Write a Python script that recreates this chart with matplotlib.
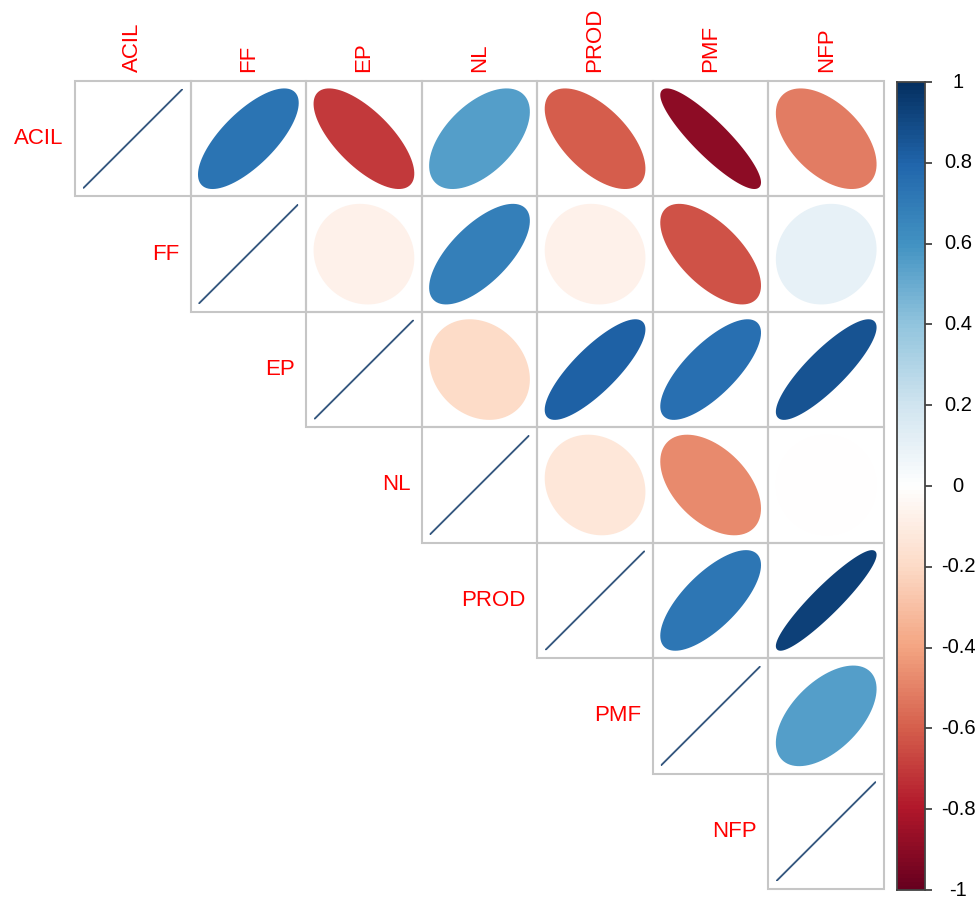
import numpy as np
import matplotlib
matplotlib.use("Agg")
import matplotlib.pyplot as plt
from matplotlib.colors import LinearSegmentedColormap
from matplotlib.patches import Polygon, Rectangle

plt.rcParams["font.family"] = ["Liberation Sans", "DejaVu Sans"]

# Variables and upper-triangle correlations (row i, columns i..6)
variables = ["ACIL", "FF", "EP", "NL", "PROD", "PMF", "NFP"]
r_acil = [1.00, 0.73, -0.71, 0.55, -0.61, -0.89, -0.52]
r_ff = [1.00, -0.08, 0.68, -0.08, -0.64, 0.10]
r_ep = [1.00, -0.20, 0.82, 0.75, 0.86]
r_nl = [1.00, -0.14, -0.48, -0.01]
r_prod = [1.00, 0.72, 0.93]
r_pmf = [1.00, 0.55]
r_nfp = [1.00]
upper_rows = [r_acil, r_ff, r_ep, r_nl, r_prod, r_pmf, r_nfp]

cbar_ticks = [1, 0.8, 0.6, 0.4, 0.2, 0, -0.2, -0.4, -0.6, -0.8, -1]
cbar_labels = ["1", "0.8", "0.6", "0.4", "0.2", "0", "-0.2", "-0.4", "-0.6", "-0.8", "-1"]

rdbu = ["#67001F", "#B2182B", "#D6604D", "#F4A582", "#FDDBC7", "#FFFFFF",
        "#D1E5F0", "#92C5DE", "#4393C3", "#2166AC", "#053061"]
cmap = LinearSegmentedColormap.from_list("rdbu200", rdbu, N=200)

W, H = 979, 900
fig = plt.figure(figsize=(W / 100, H / 100), dpi=100)
fig.patch.set_facecolor("white")

n = len(variables)
ax = fig.add_axes([75 / W, 11 / H, 809 / W, 808 / H])
ax.set_xlim(0, n)
ax.set_ylim(n, 0)
ax.axis("off")

t = np.linspace(0, 2 * np.pi, 99)
label_color = "#FF0000"

for i, row in enumerate(upper_rows):
    for k, r in enumerate(row):
        j = i + k
        ax.add_patch(Rectangle((j, i), 1, 1, fill=False, ec="#c6c6c6",
                               lw=1.5, clip_on=False, zorder=1))
        a = np.arccos(np.clip(r, -1, 1))
        ex = 0.85 * np.cos(t + a / 2) / 2
        ey = 0.85 * np.cos(t - a / 2) / 2
        col = cmap((r + 1) / 2)
        pts = np.column_stack([j + 0.5 + ex, i + 0.5 - ey])
        if abs(r) >= 0.999:
            ax.plot(pts[:, 0], pts[:, 1], color=col, lw=1.1, alpha=0.8,
                    zorder=2, solid_capstyle="round")
        else:
            ax.add_patch(Polygon(pts, closed=True, fc=col, ec=col, lw=1.8,
                                 joinstyle="round", zorder=2))

# Row labels to the left of each diagonal cell, column labels on top
for i, name in enumerate(variables):
    ax.text(i - 0.1, i + 0.5, name, ha="right", va="center",
            color=label_color, fontsize=16)
    ax.text(i + 0.5, -0.08, name, ha="center", va="bottom", rotation=90,
            color=label_color, fontsize=16, clip_on=False)

# Colour legend
cax = fig.add_axes([897 / W, 10 / H, 28 / W, 808 / H])
grad = np.linspace(1, -1, 200)[:, None]
cax.imshow(grad, aspect="auto", cmap=cmap, vmin=-1, vmax=1,
           extent=[0, 1, -1, 1], origin="upper", interpolation="nearest")
cax.set_xlim(0, 1)
cax.set_ylim(-1, 1)
cax.set_xticks([])
cax.yaxis.tick_right()
cax.set_yticks(cbar_ticks)
cax.set_yticklabels([])
cax.tick_params(axis="y", length=5, width=1.2, color="#333333", direction="out")
for s in cax.spines.values():
    s.set_color("#444444")
    s.set_linewidth(1.3)
tr = cax.get_yaxis_transform()
for v, lab in zip(cbar_ticks, cbar_labels):
    cax.text((958 - 897) / 28, v, lab, transform=tr, ha="center", va="center",
             fontsize=14.5, color="black", clip_on=False)

fig.savefig("out.png", dpi=100, facecolor="white")
